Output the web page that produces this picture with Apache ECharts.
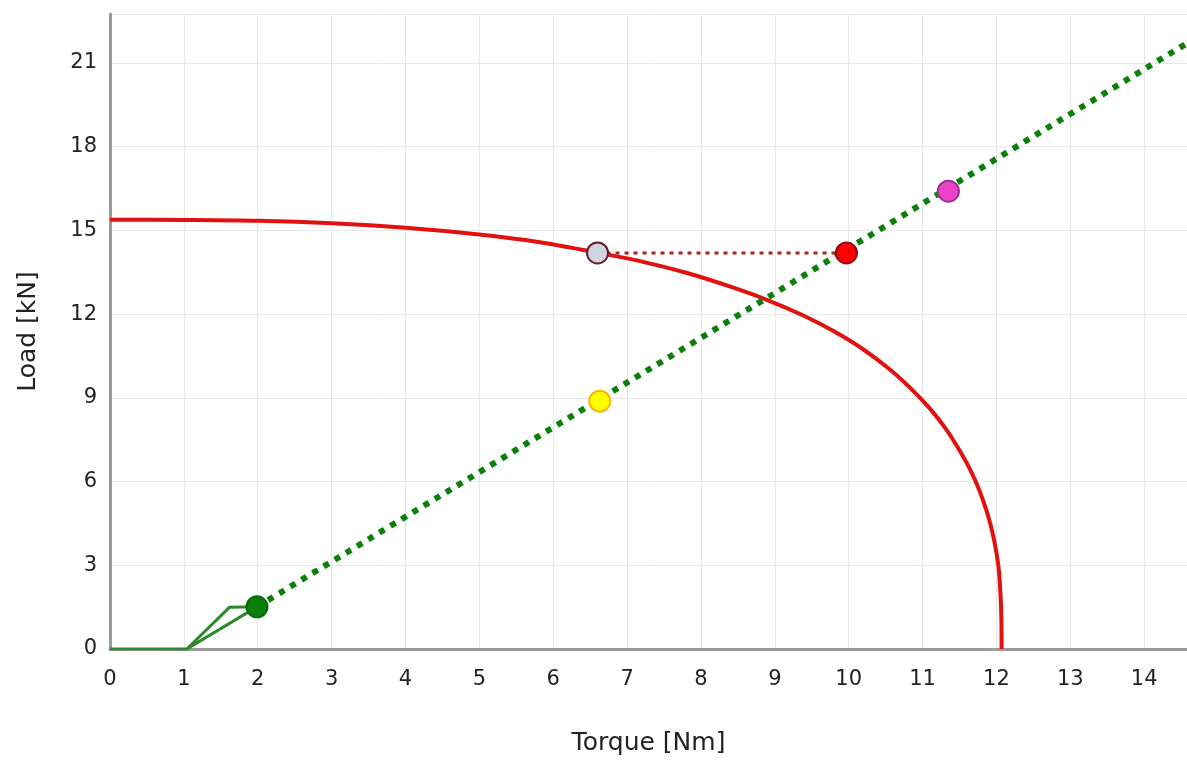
<!DOCTYPE html>
<html>
<head>
<meta charset="utf-8">
<script type="text/javascript" src="https://cdn.jsdelivr.net/npm/echarts@6/dist/echarts.min.js"></script>
<style>
  html, body { margin: 0; padding: 0; background: #fff; }
  #main { width: 1187px; height: 761px; }
</style>
</head>
<body>
<div id="main"></div>
<script>
// limit curve (torque, load)
var curveX = [0, 1, 2, 3, 4, 5, 5.8, 6.6, 7.2, 7.8, 8.4, 8.9, 9.4, 9.8, 10.2, 10.55, 10.85, 11.1, 11.32, 11.5, 11.65, 11.77, 11.87, 11.94, 11.99, 12.03, 12.055, 12.067, 12.07];
var curveY = [15.38, 15.37, 15.34, 15.25, 15.09, 14.85, 14.58, 14.2, 13.88, 13.48, 12.98, 12.5, 11.93, 11.38, 10.73, 10.03, 9.31, 8.61, 7.87, 7.12, 6.4, 5.68, 4.92, 4.25, 3.6, 2.9, 1.97, 1.1, 0];

// working line (dotted green)
var workX = [1.99, 14.58];
var workY = [1.51, 21.7];

// start-up path (solid green)
var startX = [0, 1.04, 1.99, null, 1.04, 1.62, 1.99];
var startY = [0, 0, 1.51, null, 0, 1.5, 1.51];

// horizontal link between grey and red points
var linkX = [6.6, 9.97];
var linkY = [14.19, 14.19];

// marker points
var pointX = [1.99, 6.63, 6.6, 9.97, 11.35];
var pointY = [1.51, 8.88, 14.19, 14.19, 16.4];
var pointFill = ['#0a800a', '#ffff00', '#cfd4e2', '#ff0000', '#ee44cc'];
var pointBorder = ['#0a6a0a', '#ffb300', '#6a1a2a', '#8a1010', '#a03090'];

var xTicks = [0, 14.58];
var yTicks = [0, 22.75];

function pairs(xs, ys) {
    var out = [];
    for (var i = 0; i < xs.length; i++) {
        out.push(xs[i] === null ? '-' : [xs[i], ys[i]]);
    }
    return out;
}

var pts = [];
for (var i = 0; i < pointX.length; i++) {
    pts.push({
        value: [pointX[i], pointY[i]],
        itemStyle: { color: pointFill[i], borderColor: pointBorder[i], borderWidth: 2, opacity: 1 }
    });
}

var myChart = echarts.init(document.getElementById('main'));
var option = {
    animation: false,
    grid: { left: 110, right: 0, top: 14, bottom: 111 },
    xAxis: {
        type: 'value',
        min: xTicks[0], max: xTicks[1], interval: 1,
        name: 'Torque [Nm]', nameLocation: 'middle', nameGap: 82,
        nameTextStyle: { fontFamily: 'DejaVu Sans', fontSize: 25, color: '#222' },
        axisLine: { lineStyle: { color: '#9a9a9a', width: 3 } },
        axisTick: { show: false },
        axisLabel: { fontFamily: 'DejaVu Sans', fontSize: 21, color: '#222', margin: 20, showMaxLabel: false },
        splitLine: { show: true, lineStyle: { color: '#e8e8e8', width: 1 } }
    },
    yAxis: {
        type: 'value',
        min: yTicks[0], max: yTicks[1], interval: 3,
        name: 'Load [kN]', nameLocation: 'middle', nameGap: 69,
        nameTextStyle: { fontFamily: 'DejaVu Sans', fontSize: 25, color: '#222' },
        axisLine: { show: true, lineStyle: { color: '#9a9a9a', width: 3 } },
        axisTick: { show: false },
        axisLabel: { fontFamily: 'DejaVu Sans', fontSize: 21, color: '#222', margin: 13, showMaxLabel: false },
        splitLine: { show: true, lineStyle: { color: '#e8e8e8', width: 1 } }
    },
    series: [
        {
            type: 'line', data: pairs(curveX, curveY), smooth: 0.3, showSymbol: false,
            lineStyle: { color: '#e31010', width: 4 }, z: 2
        },
        {
            type: 'line', data: pairs(workX, workY), showSymbol: false,
            lineStyle: { color: '#0a800a', width: 6, type: [6, 7] }, z: 3
        },
        {
            type: 'line', data: pairs(startX, startY), showSymbol: false, connectNulls: false,
            lineStyle: { color: '#2a8a2a', width: 3 }, z: 3
        },
        {
            type: 'line', data: pairs(linkX, linkY), showSymbol: false,
            lineStyle: { color: '#b02020', width: 3, type: [4, 5] }, z: 3
        },
        {
            type: 'scatter', data: pts, symbolSize: 21, z: 5
        }
    ]
};
myChart.setOption(option);
</script>
</body>
</html>
